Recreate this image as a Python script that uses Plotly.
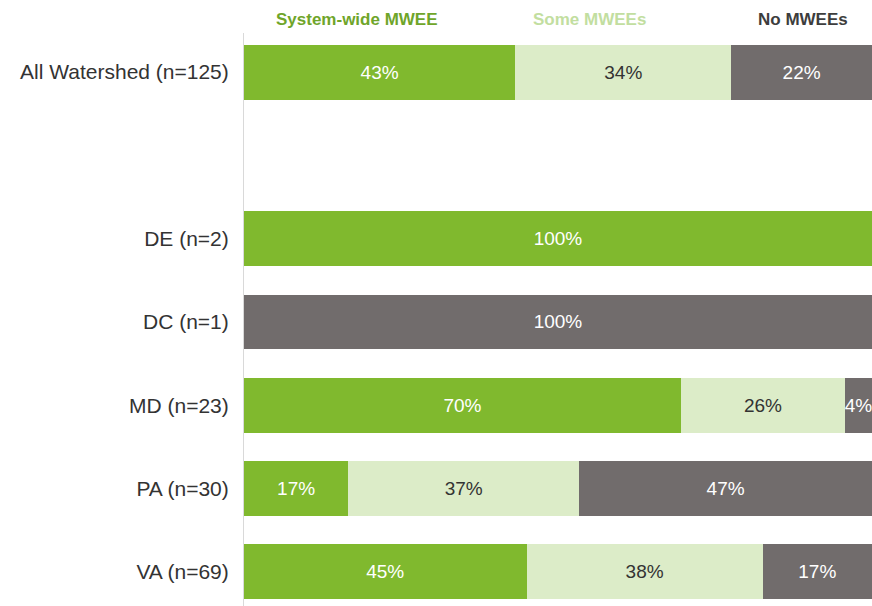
import plotly.graph_objects as go

categories = ["All Watershed (n=125)", "", "DE (n=2)", "DC (n=1)", "MD (n=23)", "PA (n=30)", "VA (n=69)"]
system_wide = [43.2, None, 100, 0, 69.6, 16.6, 45.0]
some = [34.4, None, 0, 0, 26.1, 36.8, 37.6]
none_ = [22.4, None, 0, 100, 4.3, 46.6, 17.4]
series_names = ["System-wide MWEE", "Some MWEEs", "No MWEEs"]
colors = ["#80b92e", "#dcecc8", "#716c6c"]
text_colors = ["white", "#333333", "white"]
legend_colors = ["#6fa52a", "#c2dea0", "#3d3d3d"]

FONT = "Liberation Sans Narrow, Arial Narrow, Liberation Sans, sans-serif"

ypos = list(range(len(categories)))

def labels(vals):
    out = []
    for v in vals:
        if v is None or v == 0:
            out.append("")
        else:
            out.append(f"{round(v):d}%")
    return out

fig = go.Figure()
for name, vals, col, tcol in zip(series_names, [system_wide, some, none_], colors, text_colors):
    fig.add_trace(go.Bar(
        y=ypos, x=vals, orientation="h", name=name,
        marker=dict(color=col, line=dict(width=0)),
        text=labels(vals), textposition="inside", insidetextanchor="middle",
        textangle=0, constraintext="none",
        textfont=dict(color=tcol, size=19, family=FONT),
        width=0.66, showlegend=False,
    ))

legend_x = [18, 55, 89]
for name, lx, lc in zip(series_names, legend_x, legend_colors):
    fig.add_annotation(x=lx, xref="x", y=1.0, yref="paper", yanchor="bottom", yshift=2,
                       text=f"<b>{name}</b>", showarrow=False,
                       font=dict(color=lc, size=17, family=FONT))

fig.update_layout(
    barmode="stack",
    width=872, height=606,
    margin=dict(l=244, r=0, t=33, b=0),
    paper_bgcolor="white", plot_bgcolor="white",
    bargap=0.34,
    xaxis=dict(range=[0, 100], visible=False, fixedrange=True),
    yaxis=dict(range=[6.41, -0.47], tickmode="array", tickvals=ypos, ticktext=categories,
               showgrid=False, zeroline=False, showline=True, linecolor="#d9d9d9", linewidth=1,
               ticks="", ticklabelstandoff=10,
               tickfont=dict(size=21, color="#333333", family=FONT)),
)

fig.write_html("out.html")
